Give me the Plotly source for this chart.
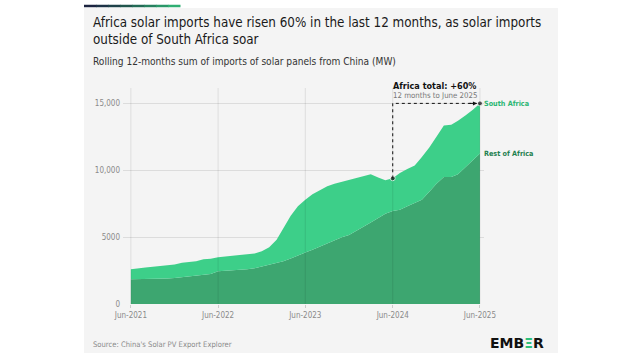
import plotly.graph_objects as go
import pandas as pd

# ---- data (MW, rolling 12-month sum), monthly Jun-2021 .. Jun-2025 ----
months = pd.date_range("2021-06-01", "2025-06-01", freq="MS")
rest_of_africa = [1850, 1850, 1860, 1870, 1880, 1900, 1950, 2000, 2050, 2100, 2150, 2250,
                  2450, 2480, 2500, 2530, 2600, 2680, 2800, 2950, 3050, 3200, 3400, 3650,
                  3850, 4050, 4300, 4550, 4800, 5000, 5150, 5450, 5800, 6100, 6450, 6750,
                  6950, 7050, 7300, 7550, 7800, 8400, 9000, 9500, 9500, 9700, 10200, 10700,
                  11250]
africa_total = [2600, 2680, 2720, 2780, 2830, 2870, 2950, 3080, 3150, 3200, 3350, 3380,
                3500, 3550, 3600, 3700, 3720, 3780, 3950, 4250, 4800, 5700, 6600, 7300,
                7800, 8200, 8500, 8800, 9000, 9150, 9250, 9450, 9600, 9700, 9450, 9250,
                9400, 9800, 10100, 10350, 11000, 11700, 12500, 13350, 13400, 13700, 14100, 14500,
                15000]
south_africa = [t - r for t, r in zip(africa_total, rest_of_africa)]

ytick_vals = [0, 5000, 10000, 15000]
ytick_text = ["0", "5000", "10,000", "15,000"]
xtick_vals = ["2021-06-01", "2022-06-01", "2023-06-01", "2024-06-01", "2025-06-01"]
xtick_text = ["Jun-2021", "Jun-2022", "Jun-2023", "Jun-2024", "Jun-2025"]

FONT = "DejaVu Sans Condensed, DejaVu Sans, sans-serif"
LIGHT = "#3dcf89"
DARK = "#3da670"

# pixel geometry helpers
L, R, T, B = 123, 156, 88, 56
PW, PH = 640 - L - R, 360 - T - B
def px(x):
    return (x - L) / PW
def py(y):
    return (360 - B - y) / PH

fig = go.Figure()
fig.add_trace(go.Scatter(x=months, y=rest_of_africa, stackgroup="a", mode="lines",
                         line=dict(width=0, color=DARK), fillcolor=DARK, name="Rest of Africa",
                         hoverinfo="skip"))
fig.add_trace(go.Scatter(x=months, y=south_africa, stackgroup="a", mode="lines",
                         line=dict(width=0, color=LIGHT), fillcolor=LIGHT, name="South Africa",
                         hoverinfo="skip"))

# dotted annotation path
i0, i1 = 36, 48
fig.add_trace(go.Scatter(x=[months[i0], months[i0], months[i1]],
                         y=[africa_total[i0], africa_total[i1], africa_total[i1]],
                         mode="lines+markers",
                         line=dict(color="#111", width=1, dash="dot"),
                         marker=dict(size=[5, 0, 5], color="#111"),
                         hoverinfo="skip", showlegend=False))

shapes = []
# card background
shapes.append(dict(type="rect", xref="paper", yref="paper", x0=px(84), x1=px(558),
                   y0=py(353), y1=py(8), fillcolor="#f4f4f4", line=dict(width=0), layer="below"))
# gradient top line
cols = ["#1c2440", "#1d3246", "#1e4249", "#20554c", "#226a55", "#26805f", "#2a9768", "#2fae72"]
seg = (180 - 84) / len(cols)
for k, c in enumerate(cols):
    shapes.append(dict(type="line", xref="paper", yref="paper",
                       x0=px(84 + k * seg), x1=px(84 + (k + 1) * seg + 0.5),
                       y0=py(6), y1=py(6), line=dict(color=c, width=2.5)))
# vertical gridlines above fills
for xv in xtick_vals:
    shapes.append(dict(type="line", xref="x", yref="paper", x0=xv, x1=xv, y0=0, y1=1,
                       line=dict(color="rgba(0,0,0,0.09)", width=1), layer="above"))

annotations = [
    dict(text="Africa solar imports have risen 60% in the last 12 months, as solar imports",
         x=px(91), y=py(22), xref="paper", yref="paper", xanchor="left", yanchor="middle",
         showarrow=False, font=dict(family=FONT, size=13.3, color="#1a1a1a")),
    dict(text="outside of South Africa soar",
         x=px(91), y=py(39), xref="paper", yref="paper", xanchor="left", yanchor="middle",
         showarrow=False, font=dict(family=FONT, size=13.3, color="#1a1a1a")),
    dict(text="Rolling 12-months sum of imports of solar panels from China (MW)",
         x=px(91), y=py(61.5), xref="paper", yref="paper", xanchor="left", yanchor="middle",
         showarrow=False, font=dict(family=FONT, size=10.1, color="#333333")),
    dict(text="Source: China's Solar PV Export Explorer",
         x=px(91), y=py(344), xref="paper", yref="paper", xanchor="left", yanchor="middle",
         showarrow=False, font=dict(family=FONT, size=7.6, color="#8a8a8a")),
    dict(text="<b>EMB<span style='color:#2ec07b'>Ξ</span>R</b>",
         x=px(546), y=py(343), xref="paper", yref="paper", xanchor="right", yanchor="middle",
         showarrow=False, font=dict(family="DejaVu Sans, sans-serif", size=14, color="#111")),
    dict(text="<b>Africa total: +60%</b>",
         x=xtick_vals[3], y=py(86), xref="x", yref="paper", xanchor="left", yanchor="middle",
         xshift=-2, showarrow=False, font=dict(family=FONT, size=9, color="#111")),
    dict(text="12 months to June 2025",
         x=xtick_vals[3], y=py(95.5), xref="x", yref="paper", xanchor="left", yanchor="middle",
         xshift=-2, showarrow=False, font=dict(family=FONT, size=7.8, color="#777")),
    dict(text="<b>South Africa</b>", x=months[-1], y=africa_total[-1], xref="x", yref="y",
         xanchor="left", yanchor="middle", xshift=2, showarrow=False,
         font=dict(family=FONT, size=7.2, color="#2bb673")),
    dict(text="<b>Rest of Africa</b>", x=months[-1], y=rest_of_africa[-1], xref="x", yref="y",
         xanchor="left", yanchor="middle", xshift=2, showarrow=False,
         font=dict(family=FONT, size=7.2, color="#1f8050")),
    dict(text="", x=months[-1], y=africa_total[-1], ax=-12, ay=0, xref="x", yref="y",
         showarrow=True, arrowhead=2, arrowsize=0.8, arrowwidth=1, arrowcolor="#111", standoff=3),
]

fig.update_layout(
    width=640, height=360,
    margin=dict(l=L, r=R, t=T, b=B),
    paper_bgcolor="white", plot_bgcolor="rgba(0,0,0,0)",
    showlegend=False,
    shapes=shapes, annotations=annotations,
    font=dict(family=FONT),
    xaxis=dict(range=["2021-04-29", "2025-06-18"], tickvals=xtick_vals, ticktext=xtick_text,
               showgrid=False, zeroline=False, showline=False,
               ticks="outside", ticklen=3, tickcolor="#cccccc",
               tickfont=dict(family=FONT, size=8, color="#8a8a8a")),
    yaxis=dict(range=[0, 16150], tickvals=ytick_vals, ticktext=ytick_text,
               showgrid=True, gridcolor="#dcdcdc", gridwidth=1, zeroline=False, showline=False,
               ticks="", ticklabelstandoff=2,
               tickfont=dict(family=FONT, size=8, color="#8a8a8a")),
)

fig.write_html("out.html", config={"displayModeBar": False},
               post_script="document.body.style.margin='0';document.body.style.overflow='hidden';")
